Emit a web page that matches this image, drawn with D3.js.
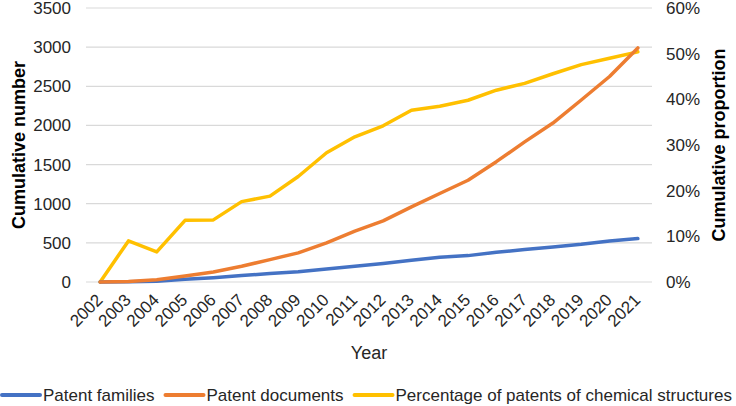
<!DOCTYPE html>
<html>
<head>
<meta charset="utf-8">
<script src="https://cdn.jsdelivr.net/npm/d3@7/dist/d3.min.js"></script>
<style>
  html, body { margin: 0; padding: 0; background: #fff; }
  svg { display: block; font-family: "Liberation Sans", Arial, sans-serif; }
</style>
</head>
<body>
<svg id="chart" width="736" height="406"></svg>
<script>
// ---- data ----
const years = ["2002","2003","2004","2005","2006","2007","2008","2009","2010","2011",
               "2012","2013","2014","2015","2016","2017","2018","2019","2020","2021"];
const patentFamilies = [0, 2, 10, 35, 55, 82, 108, 130, 165, 200,
                        235, 278, 316, 337, 380, 414, 448, 482, 525, 555];
const patentDocuments = [0, 5, 30, 77, 128, 201, 286, 372, 500, 650,
                         780, 960, 1130, 1300, 1537, 1790, 2030, 2325, 2625, 2990];
const chemPercentage = [0, 0.090, 0.066, 0.135, 0.136, 0.176, 0.188, 0.231, 0.283, 0.318,
                        0.342, 0.376, 0.385, 0.398, 0.420, 0.435, 0.456, 0.476, 0.490, 0.504];
const leftTicks = [0, 500, 1000, 1500, 2000, 2500, 3000, 3500];
const rightTicks = [0, 0.1, 0.2, 0.3, 0.4, 0.5, 0.6];

const series = [
  { name: "Percentage of patents of chemical structures", values: chemPercentage, color: "#FFC000", axis: "right" },
  { name: "Patent families", values: patentFamilies, color: "#4472C4", axis: "left" },
  { name: "Patent documents", values: patentDocuments, color: "#ED7D31", axis: "left" }
];
const legendOrder = ["Patent families", "Patent documents", "Percentage of patents of chemical structures"];

// ---- layout ----
const svg = d3.select("#chart");
const plot = { left: 86, right: 652, top: 8, bottom: 282 };
const FONT = "Liberation Sans, Arial, sans-serif";

const x = d3.scalePoint().domain(years).range([plot.left, plot.right]).padding(0.5);
const yL = d3.scaleLinear().domain([0, 3500]).range([plot.bottom, plot.top]);
const yR = d3.scaleLinear().domain([0, 0.6]).range([plot.bottom, plot.top]);

// gridlines
svg.append("g")
  .selectAll("line")
  .data(leftTicks)
  .join("line")
  .attr("x1", plot.left).attr("x2", plot.right)
  .attr("y1", d => yL(d)).attr("y2", d => yL(d))
  .attr("stroke", "#d9d9d9")
  .attr("stroke-width", 1.2);

// left axis
const leftAxis = svg.append("g")
  .attr("transform", `translate(${plot.left},0)`)
  .call(d3.axisLeft(yL).tickValues(leftTicks).tickSize(0).tickPadding(15).tickFormat(d3.format("d")));
leftAxis.select(".domain").remove();
leftAxis.selectAll("text").attr("font-size", 17).attr("fill", "#262626").attr("font-family", FONT);

// right axis
const rightAxis = svg.append("g")
  .attr("transform", `translate(${plot.right},0)`)
  .call(d3.axisRight(yR).tickValues(rightTicks).tickSize(0).tickPadding(14).tickFormat(d3.format(".0%")));
rightAxis.select(".domain").remove();
rightAxis.selectAll("text").attr("font-size", 17).attr("fill", "#262626").attr("font-family", FONT);

// bottom axis, rotated labels
const bottomAxis = svg.append("g")
  .attr("transform", `translate(0,${plot.bottom})`)
  .call(d3.axisBottom(x).tickSize(0).tickPadding(0));
bottomAxis.select(".domain").remove();
bottomAxis.selectAll("text")
  .attr("font-size", 17).attr("fill", "#262626").attr("font-family", FONT)
  .attr("text-anchor", "end")
  .attr("dy", "0")
  .attr("transform", "translate(3,19) rotate(-45)");

// axis titles
svg.append("text")
  .attr("transform", `translate(25,${(plot.top + plot.bottom) / 2}) rotate(-90)`)
  .attr("text-anchor", "middle")
  .attr("font-size", 18).attr("font-weight", "bold").attr("fill", "#000")
  .text("Cumulative number");

svg.append("text")
  .attr("transform", `translate(725,${(plot.top + plot.bottom) / 2}) rotate(-90)`)
  .attr("text-anchor", "middle")
  .attr("font-size", 18).attr("font-weight", "bold").attr("fill", "#000")
  .text("Cumulative proportion");

svg.append("text")
  .attr("x", (plot.left + plot.right) / 2)
  .attr("y", 359)
  .attr("text-anchor", "middle")
  .attr("font-size", 18).attr("fill", "#262626")
  .text("Year");

// lines
series.forEach(s => {
  const yS = s.axis === "left" ? yL : yR;
  const line = d3.line()
    .x((d, i) => x(years[i]))
    .y(d => yS(d));
  svg.append("path")
    .datum(s.values)
    .attr("fill", "none")
    .attr("stroke", s.color)
    .attr("stroke-width", 3.5)
    .attr("stroke-linejoin", "round")
    .attr("stroke-linecap", "round")
    .attr("d", line);
});

// legend, shrunk a touch if it would run past the right edge
const legend = svg.append("g").attr("transform", "translate(2,395)");
let legendSize = 17;
function drawLegend(size) {
  legend.selectAll("*").remove();
  let lx = 0;
  legendOrder.forEach(name => {
    const s = series.find(d => d.name === name);
    legend.append("line")
      .attr("x1", lx).attr("x2", lx + 38)
      .attr("y1", 0).attr("y2", 0)
      .attr("stroke", s.color).attr("stroke-width", 4)
      .attr("stroke-linecap", "round");
    const t = legend.append("text")
      .attr("x", lx + 41).attr("y", 6)
      .attr("font-size", size).attr("fill", "#262626").attr("font-family", FONT)
      .text(name);
    lx += 41 + t.node().getComputedTextLength() + 11;
  });
  return lx - 11;
}
while (drawLegend(legendSize) + 2 > 734 && legendSize > 12) legendSize -= 0.5;
</script>
</body>
</html>
